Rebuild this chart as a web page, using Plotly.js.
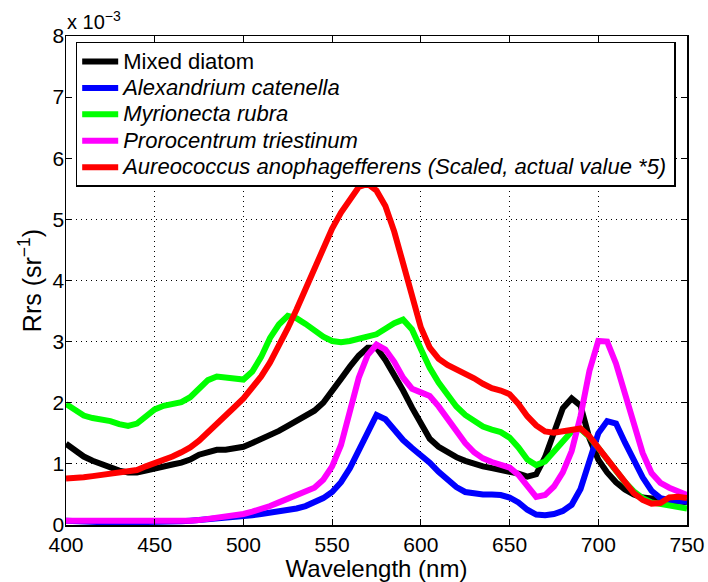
<!DOCTYPE html>
<html><head><meta charset="utf-8">
<script src="https://cdn.plot.ly/plotly-3.0.1.min.js"></script>
<style>html,body{margin:0;padding:0;background:#fff;}#chart{width:708px;height:582px;}</style>
</head><body><div id="chart"></div>
<script>
var wavelength = [400,405,410,415,420,425,430,435,440,445,450,455,460,465,470,475,480,485,490,495,500,505,510,515,520,525,530,535,540,545,550,555,560,565,570,575,580,585,590,595,600,605,610,615,620,625,630,635,640,645,650,655,660,665,670,675,680,685,690,695,700,705,710,715,720,725,730,735,740,745,750];
// values in units of 1e-3 sr^-1
var mixedDiatom = [1.33,1.22,1.12,1.05,0.99,0.93,0.89,0.86,0.86,0.89,0.93,0.96,0.99,1.02,1.07,1.15,1.20,1.23,1.23,1.25,1.28,1.34,1.40,1.47,1.54,1.62,1.70,1.79,1.87,2.00,2.18,2.39,2.59,2.77,2.90,2.90,2.70,2.46,2.20,1.92,1.64,1.41,1.28,1.19,1.11,1.05,1.00,0.96,0.93,0.90,0.88,0.84,0.79,0.83,1.11,1.54,1.91,2.07,1.95,1.42,1.07,0.86,0.70,0.58,0.50,0.45,0.43,0.42,0.41,0.38,0.37];
var alexandrium = [0.07,0.06,0.05,0.04,0.04,0.04,0.04,0.04,0.04,0.05,0.05,0.05,0.05,0.06,0.07,0.08,0.09,0.10,0.11,0.12,0.14,0.16,0.18,0.20,0.22,0.24,0.27,0.31,0.37,0.44,0.54,0.70,0.93,1.21,1.54,1.80,1.73,1.56,1.39,1.26,1.15,1.02,0.87,0.73,0.62,0.54,0.51,0.50,0.50,0.49,0.45,0.37,0.25,0.17,0.16,0.18,0.23,0.33,0.59,1.03,1.50,1.70,1.66,1.35,1.04,0.78,0.56,0.44,0.41,0.39,0.38];
var myrionecta = [1.98,1.87,1.79,1.75,1.73,1.70,1.65,1.62,1.66,1.78,1.89,1.95,1.98,2.01,2.09,2.23,2.37,2.43,2.41,2.38,2.38,2.51,2.75,3.06,3.28,3.42,3.38,3.29,3.18,3.08,3.01,2.99,3.01,3.05,3.08,3.12,3.21,3.30,3.36,3.20,2.88,2.57,2.33,2.12,1.94,1.80,1.69,1.61,1.56,1.52,1.43,1.27,1.07,0.98,1.04,1.21,1.39,1.53,1.57,1.44,1.26,1.06,0.87,0.70,0.55,0.44,0.37,0.34,0.31,0.28,0.27];
var prorocentrum = [0.07,0.07,0.06,0.06,0.05,0.05,0.05,0.05,0.05,0.05,0.05,0.05,0.05,0.06,0.07,0.08,0.10,0.11,0.13,0.16,0.18,0.22,0.26,0.31,0.37,0.43,0.48,0.53,0.61,0.74,0.96,1.31,1.83,2.41,2.78,2.95,2.87,2.67,2.41,2.23,2.17,2.11,1.94,1.73,1.52,1.34,1.19,1.09,1.03,0.99,0.94,0.82,0.63,0.46,0.49,0.63,0.86,1.21,1.78,2.52,3.01,3.00,2.64,2.17,1.65,1.18,0.85,0.69,0.61,0.55,0.49];
var aureococcus = [0.76,0.76,0.78,0.80,0.82,0.84,0.86,0.88,0.90,0.96,1.01,1.07,1.12,1.19,1.27,1.38,1.51,1.65,1.79,1.93,2.07,2.24,2.43,2.66,2.92,3.22,3.53,3.86,4.18,4.54,4.85,5.11,5.34,5.53,5.58,5.47,5.22,4.80,4.28,3.71,3.23,2.90,2.72,2.62,2.55,2.48,2.40,2.31,2.24,2.20,2.14,1.98,1.78,1.63,1.53,1.51,1.54,1.57,1.58,1.45,1.26,1.06,0.87,0.69,0.52,0.41,0.35,0.36,0.45,0.46,0.44];

var names = ['Mixed diatom','<i>Alexandrium catenella</i>','<i>Myrionecta rubra</i>','<i>Prorocentrum triestinum</i>','<i>Aureococcus anophagefferens (Scaled, actual value *5)</i>'];
var series = [mixedDiatom, alexandrium, myrionecta, prorocentrum, aureococcus];
var colors = ['#000000','#0000ff','#00ff00','#ff00ff','#ff0000'];
var xTicks = [400,450,500,550,600,650,700,750];
var yTicks = [0,1,2,3,4,5,6,7,8];

var traces = series.map(function(s,i){
  return {x: wavelength, y: s, type:'scatter', mode:'lines',
          name: '<span style="font-size:22px">' + names[i] + '</span>',
          line:{color: colors[i], width:6}};
});
var font = 'Liberation Sans, Arial, Helvetica, sans-serif';
var axisCommon = {ticks:'inside', ticklen:6, tickcolor:'#000', showline:true, linecolor:'#000',
  linewidth:1.5, mirror:'ticks', showgrid:true, gridcolor:'#000', griddash:'1px,4px', gridwidth:1,
  zeroline:false, tickfont:{size:21}, ticklabeloverflow:'allow'};
var layout = {
  width:708, height:582,
  margin:{l:66, r:21, t:36, b:57},
  paper_bgcolor:'#fff', plot_bgcolor:'#fff',
  font:{family:font, color:'#000', size:21},
  showlegend:true,
  legend:{x:0.0156, y:0.988, xanchor:'left', yanchor:'top', bgcolor:'#fff', itemwidth:36,
          bordercolor:'#000', borderwidth:1.5, font:{size:18, family:font}, tracegroupgap:0},
  xaxis:Object.assign({range:[400,750], tickvals:xTicks, ticktext:xTicks.map(String),
         title:{text:'Wavelength (nm)', font:{size:24}, standoff:2}}, axisCommon),
  yaxis:Object.assign({range:[0,8], tickvals:yTicks, ticktext:yTicks.map(String), ticklabelstandoff:-4,
         title:{text:'Rrs (sr<sup>\u22121</sup>)', font:{size:25}, standoff:4}}, axisCommon),
  annotations:[{xref:'paper', yref:'paper', x:0, y:1, xanchor:'left', yanchor:'bottom',
                xshift:-1, yshift:1, showarrow:false, text:'x 10<sup>\u22123</sup>', font:{size:20}}]
};
Plotly.newPlot('chart', traces, layout, {displayModeBar:false, staticPlot:true});
</script></body></html>
